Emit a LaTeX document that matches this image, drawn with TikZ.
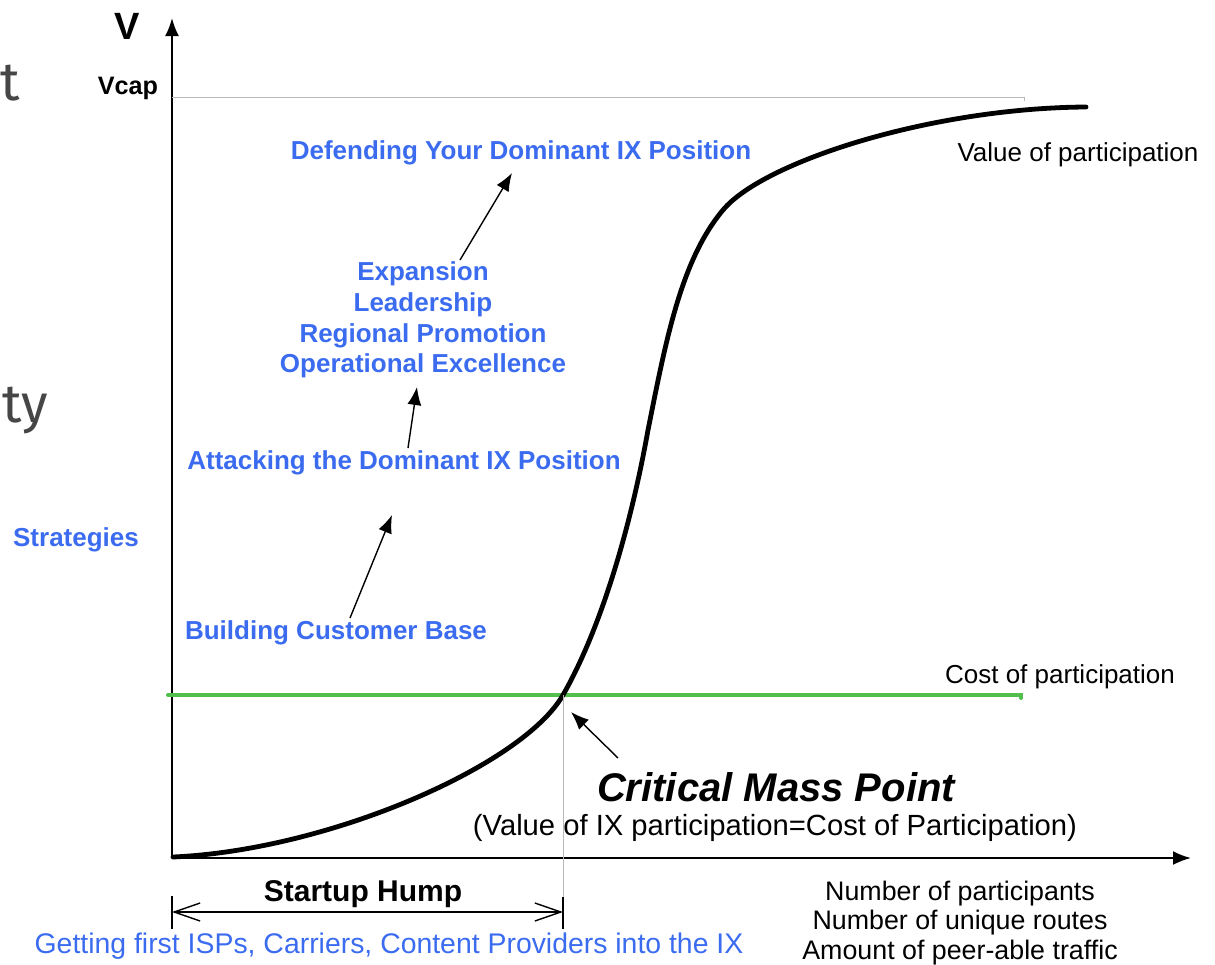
\documentclass[tikz,border=0pt]{standalone}
\usepackage{fontspec}
\setmainfont{Liberation Sans}
\newfontfamily\slidefont{Fira Sans}
\usepackage{xcolor}
\usetikzlibrary{arrows.meta}
\definecolor{stratblue}{RGB}{59,108,240}
\definecolor{costgreen}{RGB}{82,190,76}
\definecolor{slidegray}{RGB}{70,70,70}

\begin{document}
\begin{tikzpicture}[x=0.5pt, y=-0.5pt,
    strat/.style={text=stratblue, font=\bfseries\fontsize{13}{15.4}\selectfont, align=center, inner sep=0pt},
    lbl/.style={font=\fontsize{13}{14.8}\selectfont, align=center, inner sep=0pt},
    frag/.style={anchor=base west, inner sep=0pt, text=slidegray, font=\slidefont\fontsize{27}{30}\selectfont},
    axis/.style={line width=1pt, -{Latex[length=9pt,width=7pt]}},
    push/.style={line width=0.7pt, -{Latex[length=9pt,width=7pt]}},
    guide/.style={gray!55, line width=0.5pt}]
    \useasboundingbox (0,0) rectangle (1215,964);

    % fragments of the slide text
    \node[frag] (fragA) at (0,100) {t};
    \node[frag] (fragB) at (2,422) {ty};

    % axes
    \coordinate (o) at (172,858);
    \coordinate (ytop) at (172,18);
    \coordinate (xend) at (1191,858);
    \draw[axis] (o) -- (ytop); % V
    \draw[axis] (o) -- (xend); % participants
    \node[inner sep=0pt, font=\bfseries\fontsize{19}{22}\selectfont] (vlab) at (127,26) {V};
    \node[inner sep=0pt, font=\bfseries\fontsize{12.6}{14}\selectfont] (vcap) at (128,88) {Vcap};
    \draw[guide] (172,97) -- (1024,97) -- (1024,101); % Vcap level

    % cost and value
    \coordinate (cm) at (563,695);
    \draw[costgreen, line width=2pt, line cap=round] (168,695) -- (1021,695) -- (1021,698); % cost
    \draw[line width=2.4pt, line cap=round] (173,857)
        .. controls (330,850) and (523,765) .. (cm)
        .. controls (603,625) and (632,520) .. (648,430)
        .. controls (666,340) and (681,260) .. (723,210)
        .. controls (763,162) and (930,108) .. (1086,107); % value
    \node[lbl] (value) at (1078,155) {Value of participation};
    \node[lbl] (cost) at (1060,677) {Cost of participation};

    % critical mass point
    \draw[guide] (cm) -- (563,897);
    \coordinate (cmtail) at (618,758);
    \coordinate (cmtip) at (571,712);
    \draw[push] (cmtail) -- (cmtip);
    \node[inner sep=0pt, font=\bfseries\itshape\fontsize{20}{24}\selectfont] (cmp) at (776,787) {Critical Mass Point};
    \node[lbl, font=\fontsize{14.6}{16}\selectfont] (cmpnote) at (775,828) {(Value of IX participation=Cost of Participation)};

    % startup hump
    \draw[line width=0.7pt] (172,896) -- (172,929);
    \draw[line width=0.7pt] (563,897) -- (563,929);
    \draw[line width=0.7pt, {Straight Barb[length=13pt,width=9pt]}-{Straight Barb[length=13pt,width=9pt]}] (172,912) -- (563,912);
    \node[inner sep=0pt, font=\bfseries\fontsize{15}{18}\selectfont] (hump) at (363,894) {Startup Hump};
    \node[inner sep=0pt, text=stratblue, font=\fontsize{14.2}{16}\selectfont] (first) at (389,946) {Getting first ISPs, Carriers, Content Providers into the IX};
    \node[lbl, font=\fontsize{13.4}{14.75}\selectfont] (count) at (960,923) {Number of participants\\Number of unique routes\\Amount of peer-able traffic};

    % strategies
    \node[strat] (strategies) at (76,540) {Strategies};
    \node[strat] (build) at (336,633) {Building Customer Base};
    \node[strat] (attack) at (404,463) {Attacking the Dominant IX Position};
    \node[strat] (expand) at (423,320) {Expansion\\Leadership\\Regional Promotion\\Operational Excellence};
    \node[strat] (defend) at (521,153) {Defending Your Dominant IX Position};

    \coordinate (buildup) at (350,618);
    \coordinate (attackin) at (392,515);
    \coordinate (attackup) at (408,448);
    \coordinate (expandin) at (417,387);
    \coordinate (expandup) at (460,260);
    \coordinate (defendin) at (512,173);
    \draw[push] (buildup) -- (attackin); % build-attack
    \draw[push] (attackup) -- (expandin); % attack-expand
    \draw[push] (expandup) -- (defendin); % expand-defend
\end{tikzpicture}
\end{document}
